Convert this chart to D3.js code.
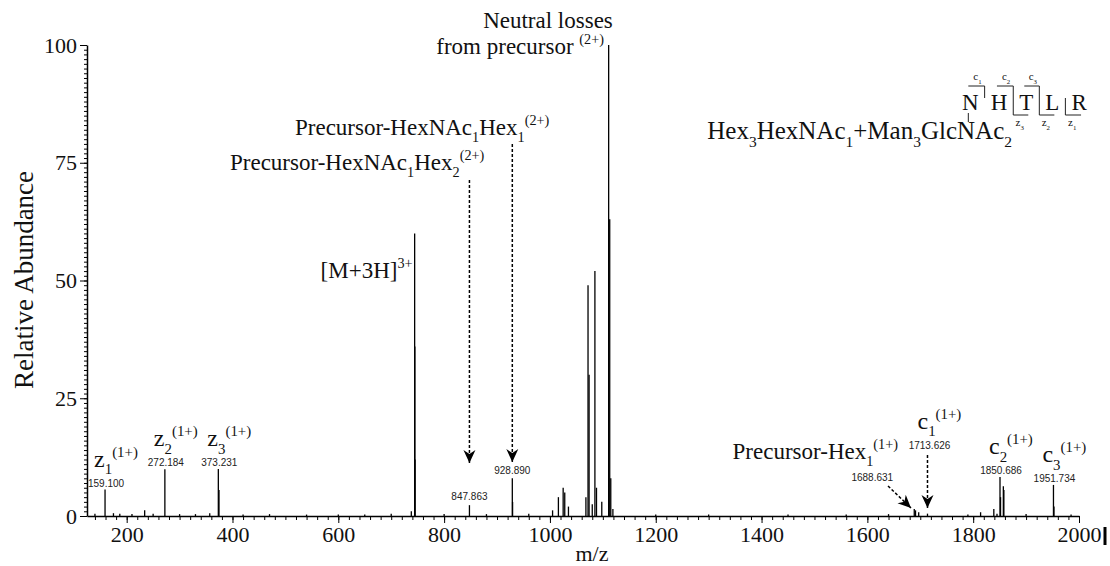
<!DOCTYPE html>
<html>
<head>
<meta charset="utf-8">
<script src="https://cdn.jsdelivr.net/npm/d3@7"></script>
<style>
  body { margin: 0; background: #fff; }
  svg text { font-family: "Liberation Serif", "Times New Roman", serif; fill: #111; }
  .mass { font-family: "Liberation Sans", Arial, sans-serif !important; font-size: 10px; fill: #222; }
</style>
</head>
<body>
<div id="chart"></div>
<script>
// peak list (m/z, relative abundance %)
const peakMz = [
  140, 159.100, 175, 187, 210, 234, 250, 272.184, 300, 330, 357, 373.231, 374.5,
  420, 470, 540, 600, 650, 700, 738, 744.30, 744.65, 745.0,
  800, 847.863, 880, 928.890, 929.4, 960,
  1005, 1016, 1025, 1028, 1035,
  1068, 1072, 1074, 1080, 1085, 1088, 1098, 1111, 1113, 1115, 1119,
  1200, 1300, 1450, 1560, 1640,
  1688.631, 1691, 1697, 1713.626, 1790, 1814, 1839, 1845,
  1850.686, 1851.7, 1857, 1858, 1900, 1951.734, 1952.7, 1985
];
const peakAbundance = [
  0.5, 5.6, 0.6, 0.5, 0.4, 1.2, 0.5, 9.9, 0.4, 0.4, 0.6, 10.0, 5.5,
  0.3, 0.4, 0.3, 0.3, 0.3, 0.5, 1.0, 60, 36, 12,
  0.4, 2.3, 0.4, 8.0, 3.0, 0.5,
  1.2, 4.0, 6.0, 5.0, 2.0,
  4.0, 49, 30, 2.5, 52, 6.0, 3.0, 100, 63, 8.0, 1.5,
  0.3, 0.3, 0.3, 0.3, 0.4,
  1.5, 1.2, 0.8, 0.5, 0.3, 0.8, 1.5, 0.5,
  8.3, 4.0, 6.3, 5.5, 0.4, 6.6, 2.0, 0.3
];

const xTicks = [200, 400, 600, 800, 1000, 1200, 1400, 1600, 1800, 2000];
const yTicks = [0, 25, 50, 75, 100];

// peaks annotated with their m/z value
const labelMz = [159.100, 272.184, 373.231, 847.863, 928.890, 1688.631, 1713.626, 1850.686, 1951.734];
const labelText = ["159.100", "272.184", "373.231", "847.863", "928.890", "1688.631", "1713.626", "1850.686", "1951.734"];

// fragment ion names
const ionMz = [159.100, 272.184, 373.231, 1713.626, 1850.686, 1951.734];
const ionType = ["z", "z", "z", "c", "c", "c"];
const ionNumber = ["1", "2", "3", "1", "2", "3"];
const ionCharge = "(1+)";

const peptide = ["N", "H", "T", "L", "R"];

const W = 1110, H = 566;
const svg = d3.select("#chart").append("svg").attr("width", W).attr("height", H);

const x = d3.scaleLinear().domain([125, 2000]).range([87, 1079]);
const y = d3.scaleLinear().domain([0, 100]).range([516, 45]);

function abundanceAt(mz) {
  return peakAbundance[peakMz.indexOf(mz)];
}

// text with subscripts / superscripts, parts = [[text, kind]]
function richText(g, parts, size) {
  const t = g.append("text").style("font-size", size + "px");
  let shift = 0;
  parts.forEach(([txt, kind]) => {
    const target = kind === "sub" ? size * 0.32 : kind === "sup" ? -size * 0.42 : 0;
    const fs = kind === "n" ? size : size * 0.62;
    t.append("tspan").attr("dy", target - shift).style("font-size", fs + "px").text(txt);
    shift = target;
  });
  return t;
}

// axes
const xAxis = svg.append("g").attr("transform", `translate(0,${y(0)})`)
  .call(d3.axisBottom(x).tickValues(xTicks).tickSize(7).tickSizeOuter(0).tickPadding(3).tickFormat(d3.format("d")));
xAxis.selectAll("text").style("font-size", "22px").style("font-family", "Liberation Serif");
xAxis.select(".domain").attr("stroke-width", 1.5);

const xMinor = svg.append("g").attr("transform", `translate(0,${y(0)})`)
  .call(d3.axisBottom(x).tickValues(d3.range(140, 2000, 20)).tickSize(4).tickFormat(""));
xMinor.select(".domain").remove();

const yAxis = svg.append("g").attr("transform", `translate(${x(125)},0)`)
  .call(d3.axisLeft(y).tickValues(yTicks).tickSize(7).tickSizeOuter(0).tickPadding(3));
yAxis.selectAll("text").style("font-size", "22px").style("font-family", "Liberation Serif");
yAxis.select(".domain").attr("stroke-width", 1.5);

const yMinor = svg.append("g").attr("transform", `translate(${x(125)},0)`)
  .call(d3.axisLeft(y).tickValues(d3.range(0, 101, 1)).tickSize(3).tickFormat(""));
yMinor.select(".domain").remove();

svg.append("text").attr("x", 592).attr("y", 561).attr("text-anchor", "middle")
  .style("font-size", "22px").text("m/z");
svg.append("text").attr("transform", "translate(33,280) rotate(-90)").attr("text-anchor", "middle")
  .style("font-size", "27px").text("Relative Abundance");
svg.append("line").attr("x1", 1105).attr("x2", 1105).attr("y1", 527).attr("y2", 545)
  .attr("stroke", "#000").attr("stroke-width", 3);

// peaks
svg.append("g").selectAll("line").data(peakMz).join("line")
  .attr("x1", d => x(d)).attr("x2", d => x(d))
  .attr("y1", y(0)).attr("y2", (d, i) => y(peakAbundance[i]))
  .attr("stroke", "#000").attr("stroke-width", 1.3);

// m/z labels
const labelShift = {
  "847.863": [0, -5], "928.890": [0, -4], "1688.631": [-42, -28], "1713.626": [2, -65]
};
const massLabelPos = labelMz.map((mz, i) => {
  const s = labelShift[labelText[i]] || [1, -3];
  return [x(mz) + s[0], y(abundanceAt(mz)) + s[1]];
});
svg.append("g").selectAll("text").data(labelText).join("text")
  .attr("class", "mass")
  .attr("x", (d, i) => massLabelPos[i][0]).attr("y", (d, i) => massLabelPos[i][1])
  .attr("text-anchor", "middle").text(d => d);

// fragment ion names
ionMz.forEach((mz, i) => {
  const p = massLabelPos[labelMz.indexOf(mz)];
  richText(svg, [[ionType[i], "n"], [ionNumber[i], "sub"], [ionCharge, "sup"]], 24)
    .attr("x", p[0] - 12).attr("y", p[1] - 20);
});

// dashed arrows
svg.append("defs").append("marker").attr("id", "head")
  .attr("viewBox", "-14 -8 16 16").attr("markerWidth", 16).attr("markerHeight", 16)
  .attr("refX", 0).attr("refY", 0).attr("orient", "auto").attr("markerUnits", "userSpaceOnUse")
  .append("path").attr("d", "M0,0 L-13,-6 L-9,0 L-13,6 Z").attr("fill", "#000");

const arrows = [
  [x(847.863), 180, x(847.863), 463],
  [x(928.890), 144, x(928.890), 462],
  [888, 486, 911, 508],
  [x(1713.626), 455, x(1713.626), 508]
];
svg.append("g").selectAll("line").data(arrows).join("line")
  .attr("x1", d => d[0]).attr("y1", d => d[1]).attr("x2", d => d[2]).attr("y2", d => d[3])
  .attr("stroke", "#000").attr("stroke-width", 1.5).attr("stroke-dasharray", "3,2")
  .attr("marker-end", "url(#head)");

// annotations
richText(svg, [["Precursor-HexNAc", "n"], ["1", "sub"], ["Hex", "n"], ["2", "sub"], ["(2+)", "sup"]], 23)
  .attr("x", 230).attr("y", 170);
richText(svg, [["Precursor-HexNAc", "n"], ["1", "sub"], ["Hex", "n"], ["1", "sub"], ["(2+)", "sup"]], 23)
  .attr("x", 295).attr("y", 135);
richText(svg, [["[M+3H]", "n"], ["3+", "sup"]], 23)
  .attr("x", x(744.30) - 2).attr("y", 278).attr("text-anchor", "end");
richText(svg, [["Precursor-Hex", "n"], ["1", "sub"], ["(1+)", "sup"]], 23)
  .attr("x", 898).attr("y", 459).attr("text-anchor", "end");
svg.append("text").attr("x", 548).attr("y", 28).attr("text-anchor", "middle")
  .style("font-size", "23px").text("Neutral losses");
richText(svg, [["from precursor ", "n"], ["(2+)", "sup"]], 23)
  .attr("x", 604).attr("y", 54).attr("text-anchor", "end");

// glycopeptide sequence with c / z cleavage marks
const pep = svg.append("g");
const pepBase = 110, topY = 86, botY = 115;
let px = 962;
const centers = [], joints = [];
peptide.forEach((aa, i) => {
  const t = pep.append("text").attr("x", px).attr("y", pepBase).style("font-size", "23px").text(aa);
  const w = t.node().getComputedTextLength();
  centers.push(px + w / 2);
  joints.push(px + w + 6);
  px += w + 12;
});
const cJoints = [0, 1, 2];
const zJoints = [1, 2, 3];
const bracket = d3.path();
joints.slice(0, 4).forEach((jx, i) => {
  const hasC = cJoints.includes(i), hasZ = zJoints.includes(i);
  const y1 = hasC ? topY : 98, y2 = hasZ ? botY : 98;
  bracket.moveTo(jx, y1); bracket.lineTo(jx, y2);
  if (hasC) { bracket.moveTo(centers[i] - 2, topY); bracket.lineTo(jx, topY); }
  if (hasZ) { bracket.moveTo(jx, botY); bracket.lineTo(centers[i + 1] + 2, botY); }
});
bracket.moveTo(centers[0] - 2, 113); bracket.lineTo(centers[0] - 2, 122);
pep.append("path").attr("d", bracket.toString()).attr("fill", "none").attr("stroke", "#222").attr("stroke-width", 1);
cJoints.forEach((j, k) => {
  richText(pep, [["c", "n"], [String(k + 1), "sub"]], 11)
    .attr("x", (centers[j] + joints[j]) / 2).attr("y", 80).attr("text-anchor", "middle");
});
zJoints.forEach((j, k) => {
  richText(pep, [["z", "n"], [String(3 - k), "sub"]], 11)
    .attr("x", (centers[j + 1] + joints[j]) / 2).attr("y", 126).attr("text-anchor", "middle");
});
richText(svg, [["Hex", "n"], ["3", "sub"], ["HexNAc", "n"], ["1", "sub"], ["+Man", "n"], ["3", "sub"], ["GlcNAc", "n"], ["2", "sub"]], 25)
  .attr("x", 1012).attr("y", 139).attr("text-anchor", "end");
</script>
</body>
</html>
